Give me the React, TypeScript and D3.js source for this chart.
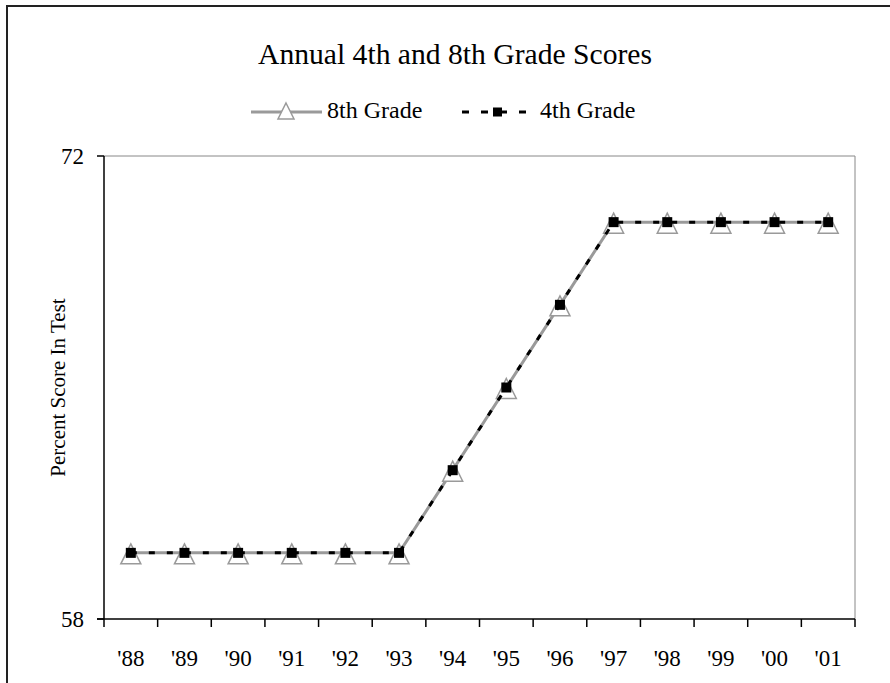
import React from "react";
import * as d3 from "d3";

const years = ["'88", "'89", "'90", "'91", "'92", "'93", "'94", "'95", "'96", "'97", "'98", "'99", "'00", "'01"];
const grade8 = [60, 60, 60, 60, 60, 60, 62.5, 65, 67.5, 70, 70, 70, 70, 70];
const grade4 = [60, 60, 60, 60, 60, 60, 62.5, 65, 67.5, 70, 70, 70, 70, 70];
const yTicks = [58, 72];
const title = "Annual 4th and 8th Grade Scores";
const yLabel = "Percent Score In Test";
const seriesNames = ["8th Grade", "4th Grade"];

const W = 890;
const H = 683;
const FONT = "'Liberation Serif', 'Times New Roman', serif";
const GRAY = "#9a9a9a";

export default function App() {
  const left = 104, right = 855, top = 156, bottom = 619;
  const x = d3.scaleBand<string>().domain(years).range([left, right]);
  const y = d3.scaleLinear().domain([58, 72]).range([bottom, top]);
  const cx = (d: string) => (x(d) as number) + x.bandwidth() / 2;

  const line = d3.line<number>().x((_, i) => cx(years[i])).y((v) => y(v));

  const tri = (px: number, py: number, w: number, h: number) =>
    `M${px},${py - h / 2}L${px + w / 2},${py + h / 2}L${px - w / 2},${py + h / 2}Z`;

  return (
    <div style={{ position: "absolute", left: 0, top: 0 }}>
      <svg width={W} height={H} style={{ display: "block" }} fontFamily={FONT}>
        <rect x={0} y={0} width={W} height={H} fill="#fff" />
        <rect x={7} y={6} width={W + 20} height={H + 20} fill="none" stroke="#222" strokeWidth={2} />
        <text x={455} y={64} textAnchor="middle" fontSize={29} textLength={394} lengthAdjust="spacingAndGlyphs">{title}</text>

        {/* legend */}
        <line x1={251} x2={322} y1={112} y2={112} stroke={GRAY} strokeWidth={3} />
        <path d={tri(286, 111, 16, 16)} fill="#fff" stroke={GRAY} strokeWidth={1.5} />
        <text x={327} y={118} fontSize={24}>{seriesNames[0]}</text>
        <line x1={462} x2={528} y1={112} y2={112} stroke="#000" strokeWidth={3} strokeDasharray="7 12" />
        <rect x={493} y={107.5} width={9} height={9} fill="#000" />
        <text x={540} y={118} fontSize={24}>{seriesNames[1]}</text>

        {/* plot frame */}
        <line x1={left} x2={right} y1={top} y2={top} stroke="#888" strokeWidth={1} />
        <line x1={right} x2={right} y1={top} y2={bottom} stroke="#888" strokeWidth={1} />
        <line x1={left} x2={left} y1={top} y2={bottom} stroke="#000" strokeWidth={1.5} />
        <line x1={left - 7} x2={right} y1={bottom} y2={bottom} stroke="#000" strokeWidth={1.5} />
        {yTicks.map((t) => (
          <g key={t}>
            <line x1={left - 7} x2={left} y1={y(t)} y2={y(t)} stroke="#000" strokeWidth={1.5} />
            <text x={84} y={y(t) + 8} textAnchor="end" fontSize={23}>{t}</text>
          </g>
        ))}
        {years.map((yr, i) => (
          <g key={yr}>
            <line x1={x(yr) as number} x2={x(yr) as number} y1={bottom} y2={bottom + 8} stroke="#000" strokeWidth={1.5} />
            {i === years.length - 1 && (
              <line x1={right} x2={right} y1={bottom} y2={bottom + 8} stroke="#000" strokeWidth={1.5} />
            )}
            <text x={cx(yr)} y={666} textAnchor="middle" fontSize={23}>{yr}</text>
          </g>
        ))}
        <text transform={`translate(65,${(top + bottom) / 2}) rotate(-90)`} textAnchor="middle" fontSize={21}>{yLabel}</text>

        {/* series 8th */}
        <path d={line(grade8) as string} fill="none" stroke={GRAY} strokeWidth={3} />
        {grade8.map((v, i) => (
          <path key={i} d={tri(cx(years[i]), y(v) + 1, 20, 20)} fill="#fff" stroke={GRAY} strokeWidth={1.5} />
        ))}
        {/* series 4th */}
        <path d={line(grade4) as string} fill="none" stroke="#000" strokeWidth={3} strokeDasharray="6 12" />
        {grade4.map((v, i) => (
          <rect key={i} x={cx(years[i]) - 5} y={y(v) - 5} width={10} height={10} fill="#000" />
        ))}
      </svg>
    </div>
  );
}
